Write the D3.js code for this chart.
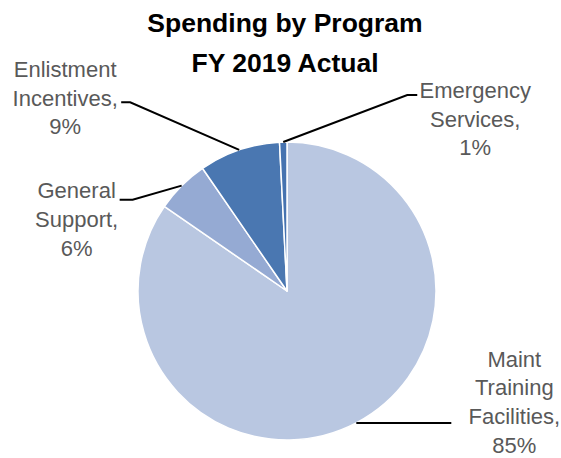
<!DOCTYPE html>
<html>
<head>
<meta charset="utf-8">
<script src="https://cdn.jsdelivr.net/npm/d3@7"></script>
<style>
  html, body { margin: 0; padding: 0; background: #ffffff; }
  svg { display: block; }
</style>
</head>
<body>
<div id="chart"></div>
<script>
// ---- Data ----
const titleLines = ["Spending by Program", "FY 2019 Actual"];
const categories = ["Maint Training Facilities", "General Support", "Enlistment Incentives", "Emergency Services"];
const values = [84.6, 5.8, 8.8, 0.8];
const colors = ["#B9C7E1", "#95AAD3", "#4A77B1", "#4673B0"];

// ---- Layout ----
const W = 561, H = 458;
const cx = 287, cy = 291, R = 149;

const svg = d3.select("#chart").append("svg")
  .attr("width", W).attr("height", H);

// Title
svg.append("text")
  .attr("x", 285).attr("y", 32)
  .attr("text-anchor", "middle")
  .attr("font-family", "Liberation Sans, Arial, sans-serif")
  .attr("font-weight", "bold")
  .attr("font-size", 26.5)
  .attr("fill", "#000000")
  .selectAll("tspan").data(titleLines).join("tspan")
  .attr("x", 285)
  .attr("dy", (d, i) => i === 0 ? 0 : 40)
  .text(d => d);

const data = categories.map((c, i) => ({ name: c, value: values[i], color: colors[i] }));
const total = d3.sum(values);
const pie = d3.pie().value(d => d.value).sort(null);
const arcs = pie(data);
const arc = d3.arc().innerRadius(0).outerRadius(R);
const edgeArc = d3.arc().innerRadius(R).outerRadius(R);

const g = svg.append("g").attr("transform", `translate(${cx},${cy})`);
g.selectAll("path.slice").data(arcs).join("path")
  .attr("class", "slice")
  .attr("d", arc)
  .attr("fill", d => d.data.color)
  .attr("stroke", "#ffffff")
  .attr("stroke-width", 1.5)
  .attr("stroke-linejoin", "round");

// Label layout offsets (pixels, relative to slice edge midpoint)
const layout = [
  { elbow: [95, 0],    end: [95, 0],    tx: 158,  ty: -56 },
  { elbow: [-49, 14],  end: [-62, 14],  tx: -105, ty: 12.7 },
  { elbow: [-109, -47.6], end: [-118, -47.6], tx: -174, ty: -72.6 },
  { elbow: [124, -47], end: [134, -47], tx: 192,  ty: -44 }
];
const fmt = v => Math.round(v / total * 100) + "%";

arcs.forEach((a, i) => {
  const [ex, ey] = edgeArc.centroid(a);
  const px = cx + ex, py = cy + ey;
  const L = layout[i];
  svg.append("polyline")
    .attr("points", [[px, py], [px + L.elbow[0], py + L.elbow[1]], [px + L.end[0], py + L.end[1]]].map(p => p.join(",")).join(" "))
    .attr("fill", "none")
    .attr("stroke", "#000000")
    .attr("stroke-width", 2);
  const words = a.data.name.split(" ");
  words[words.length - 1] += ",";
  const lines = words.concat([fmt(a.data.value)]);
  svg.append("text")
    .attr("text-anchor", "middle")
    .attr("font-family", "Liberation Sans, Arial, sans-serif")
    .attr("font-size", 22)
    .attr("fill", "#595959")
    .selectAll("tspan").data(lines).join("tspan")
    .attr("x", px + L.tx)
    .attr("y", (d, k) => py + L.ty + k * 28.6)
    .text(d => d);
});
</script>
</body>
</html>
